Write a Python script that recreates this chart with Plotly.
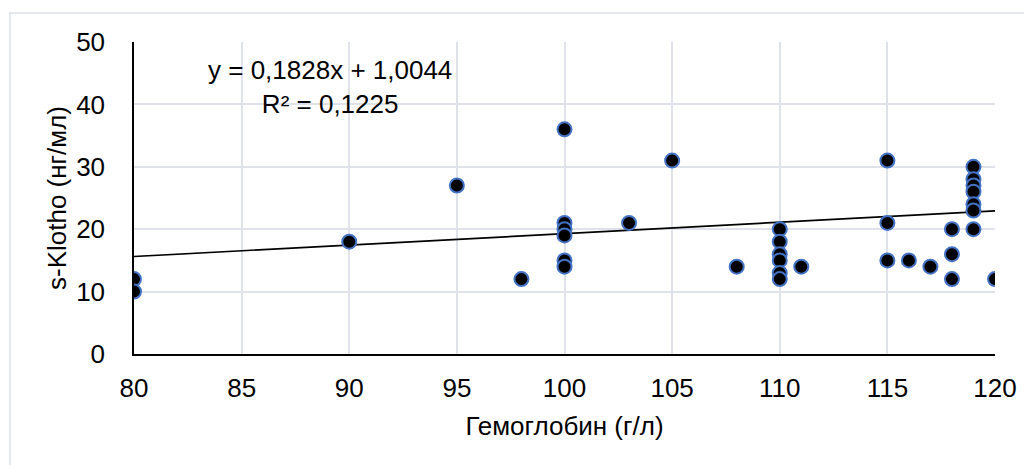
import plotly.graph_objects as go

# Data
hemoglobin = [80, 80, 90, 95, 98,
              100, 100, 100, 100, 100, 100,
              103, 105, 108,
              110, 110, 110, 110, 110, 110,
              111, 115, 115, 115, 116, 117,
              118, 118, 118,
              119, 119, 119, 119, 119, 119, 119,
              120]
klotho = [12, 10, 18, 27, 12,
          36, 21, 20, 19, 15, 14,
          21, 31, 14,
          20, 18, 16, 15, 13, 12,
          14, 31, 21, 15, 15, 14,
          20, 16, 12,
          30, 28, 27, 26, 24, 23, 20,
          12]
trend_slope = 0.1828
trend_intercept = 1.0044
trend_x = [80, 120]
equation_text = "y = 0,1828x + 1,0044<br>R² = 0,1225"
x_ticks = [80, 85, 90, 95, 100, 105, 110, 115, 120]
y_ticks = [0, 10, 20, 30, 40, 50]

FONT = "Liberation Sans, Arial, sans-serif"
GRID = "#dfe2e9"
FS = 26

OFF = 8  # page body margin
W, H = 1032 - OFF, 465 - OFF
L, R, T, B = 134 - OFF, 995 - OFF, 42 - OFF, 354 - OFF

fig = go.Figure()
fig.add_trace(go.Scatter(
    x=trend_x, y=[trend_slope * v + trend_intercept for v in trend_x],
    mode="lines", line=dict(color="black", width=1.7),
    showlegend=False, hoverinfo="skip"))
fig.add_trace(go.Scatter(
    x=hemoglobin, y=klotho, mode="markers",
    marker=dict(color="black", size=14, line=dict(color="#4472C4", width=2)),
    showlegend=False))

def px_to_paper_x(px):
    return (px - OFF - L) / (R - L)

def px_to_paper_y(py):
    return (B - (py - OFF)) / (B - T)

fig.add_shape(type="rect", xref="paper", yref="paper",
              x0=px_to_paper_x(10), x1=px_to_paper_x(1060),
              y0=px_to_paper_y(490), y1=px_to_paper_y(13),
              line=dict(color="#dcdfe6", width=1.5), layer="below")

fig.add_annotation(x=89.1, y=42.8, xref="x", yref="y", text=equation_text,
                   showarrow=False, align="center",
                   font=dict(family=FONT, size=FS, color="black"))

fig.update_layout(
    width=W, height=H,
    margin=dict(l=L, r=W - R, t=T, b=H - B),
    paper_bgcolor="white", plot_bgcolor="white",
    font=dict(family=FONT, size=FS, color="black"),
    xaxis=dict(range=[80, 120], tickvals=x_ticks, showgrid=True, gridcolor=GRID,
               gridwidth=1.5, showline=True, linecolor="black", linewidth=1.5,
               zeroline=False, ticks="", ticklabelstandoff=10,
               title=dict(text="Гемоглобин (г/л)", standoff=15,
                          font=dict(family=FONT, size=FS))),
    yaxis=dict(range=[0, 50], tickvals=y_ticks, showgrid=True, gridcolor=GRID,
               gridwidth=1.5, showline=True, linecolor="black", linewidth=1.5,
               zeroline=False, ticks="", ticklabelstandoff=22,
               title=dict(text="s-Klotho (нг/мл)", standoff=2,
                          font=dict(family=FONT, size=FS))),
)

fig.write_html("out.html")
